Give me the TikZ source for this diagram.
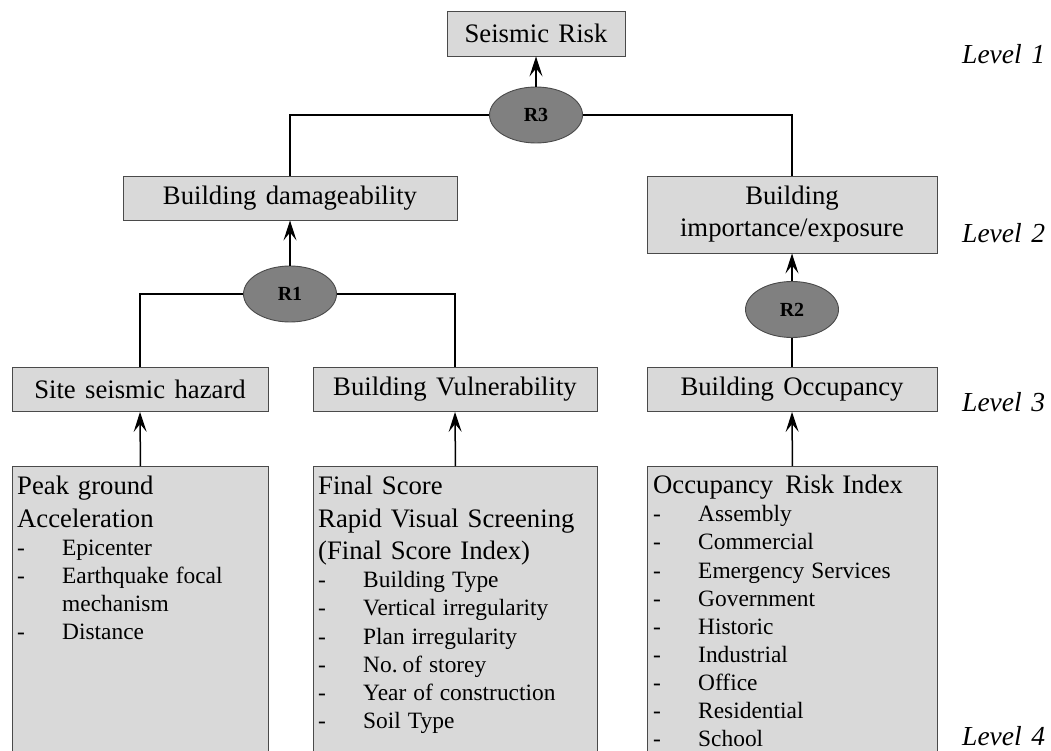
\documentclass[tikz,border=0pt]{standalone}
\usepackage{fontspec}
\setmainfont{Liberation Serif}[WordSpace=1.4]
\usetikzlibrary{shapes.geometric,arrows.meta}

\definecolor{boxgray}{HTML}{D9D9D9}
\definecolor{ellgray}{HTML}{808080}
\definecolor{edgegray}{HTML}{4A4A4A}

% heading and bullet lines inside the indicator boxes
\newcommand\hdline[1]{{\fontsize{26.7}{32.5}\selectfont\spaceskip=0.33em plus 0.1em\noindent #1\par}}
\newcommand\itline[1]{{\fontsize{23.4}{28.1}\selectfont\spaceskip=0.3em plus 0.1em\hangindent=45pt\hangafter=1\noindent\makebox[45pt][l]{-}#1\par}}

\tikzset{
  box/.style={draw=edgegray, fill=boxgray, line width=0.9pt, inner sep=0pt,
    align=center, font=\fontsize{26.7}{32}\selectfont},
  listbox/.style={draw=edgegray, fill=boxgray, line width=0.9pt, inner sep=0pt,
    anchor=north west},
  listtext/.style={anchor=north west, inner sep=0pt, align=left, text width=250pt},
  rnode/.style={ellipse, draw=edgegray, fill=ellgray, line width=0.9pt,
    minimum width=93pt, minimum height=56pt, inner sep=0pt,
    font=\fontsize{20}{20}\selectfont\bfseries},
  link/.style={line width=1.5pt},
  arr/.style={link, -{Stealth[length=20pt,width=13pt,inset=8pt]}},
  level/.style={anchor=west, inner sep=0pt, font=\fontsize{27.5}{30}\selectfont\itshape},
}

\begin{document}
\begin{tikzpicture}[x=1pt,y=-1pt]
\useasboundingbox (0,0) rectangle (1051,751);
\clip (0,0) rectangle (1051,751);

% level 1
\node[box, minimum width=178pt, minimum height=45pt] (risk) at (536,33.5) {Seismic Risk};
\node[rnode] (r3) at (536,115) {R3};

% level 2
\node[box, minimum width=334pt, minimum height=44pt] (damage) at (290,198) {Building damageability};
\node[box, minimum width=290pt, minimum height=77pt] (imp) at (792,214.5) {Building\\importance/exposure};
\node[rnode] (r1) at (290,294) {R1};
\node[rnode] (r2) at (792,309.5) {R2};

% level 3
\node[box, minimum width=256pt, minimum height=44pt] (site) at (140,389.5) {Site seismic hazard};
\node[box, minimum width=284pt, minimum height=44pt] (vuln) at (455,389.5) {Building Vulnerability};
\node[box, minimum width=290pt, minimum height=44pt] (occ) at (792,389.5) {Building Occupancy};

% level 4 indicator boxes
\node[listbox, minimum width=256pt, minimum height=310pt] (pga) at (12,466) {};
\node[listbox, minimum width=284pt, minimum height=310pt] (rvs) at (313,466) {};
\node[listbox, minimum width=290pt, minimum height=310pt] (ori) at (647,466) {};

\node[listtext] (pgatext) at ([shift={(5,10)}]pga.north west) {%
  \hdline{Peak ground}
  \hdline{Acceleration}
  \itline{Epicenter}
  \itline{Earthquake focal\newline mechanism}
  \itline{Distance}};
\node[listtext, text width=280pt] (rvstext) at ([shift={(5,10)}]rvs.north west) {%
  \hdline{Final Score}
  \hdline{Rapid Visual Screening}
  \hdline{(Final Score Index)}
  \itline{Building Type}
  \itline{Vertical irregularity}
  \itline{Plan irregularity}
  \itline{No. of storey}
  \itline{Year of construction}
  \itline{Soil Type}};
\node[listtext, text width=284pt] (oritext) at ([shift={(6,9)}]ori.north west) {%
  {\fontsize{26.7}{28.1}\selectfont\noindent Occupancy\hspace{0.45em}Risk\hspace{0.3em}Index\par}
  \itline{Assembly}
  \itline{Commercial}
  \itline{Emergency Services}
  \itline{Government}
  \itline{Historic}
  \itline{Industrial}
  \itline{Office}
  \itline{Residential}
  \itline{School}};

% level labels
\node[level] (lv1) at (962,54) {Level 1};
\node[level] (lv2) at (962,233) {Level 2};
\node[level] (lv3) at (962,402) {Level 3};
\node[level] (lv4) at (962,736) {Level 4};

% connectors
\draw[arr] (r3) -- (risk);
\draw[link] (r3.west) -| (damage.north);
\draw[link] (r3.east) -| (imp.north);
\draw[arr] (r1) -- (damage);
\draw[link] (r1.west) -| (site.north);
\draw[link] (r1.east) -| (vuln.north);
\draw[link] (occ) -- (r2);
\draw[arr] (r2) -- (imp);
\draw[arr] (pga.north) -- (site.south);
\draw[arr] (rvs.north) -- (vuln.south);
\draw[arr] (ori.north) -- (occ.south);
\end{tikzpicture}
\end{document}
